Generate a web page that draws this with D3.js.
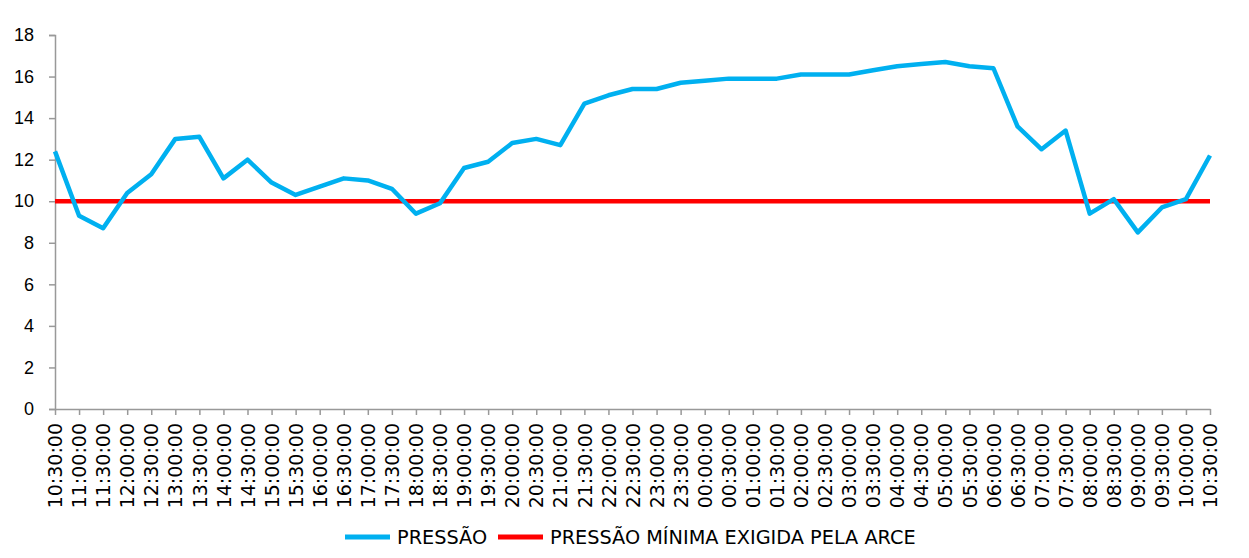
<!DOCTYPE html>
<html>
<head>
<meta charset="utf-8">
<script src="https://cdn.jsdelivr.net/npm/d3@7"></script>
<style>
  body { margin: 0; background: #fff; }
  svg { font-family: "DejaVu Sans", sans-serif; }
</style>
</head>
<body>
<svg id="chart" width="1249" height="558"></svg>
<script>
// time labels, every 30 minutes
var times = ["10:30:00","11:00:00","11:30:00","12:00:00","12:30:00","13:00:00","13:30:00",
    "14:00:00","14:30:00","15:00:00","15:30:00","16:00:00","16:30:00","17:00:00","17:30:00",
    "18:00:00","18:30:00","19:00:00","19:30:00","20:00:00","20:30:00","21:00:00","21:30:00",
    "22:00:00","22:30:00","23:00:00","23:30:00","00:00:00","00:30:00","01:00:00","01:30:00",
    "02:00:00","02:30:00","03:00:00","03:30:00","04:00:00","04:30:00","05:00:00","05:30:00",
    "06:00:00","06:30:00","07:00:00","07:30:00","08:00:00","08:30:00","09:00:00","09:30:00",
    "10:00:00","10:30:00 "];

// measured pressure
var pressao = [12.4, 9.3, 8.7, 10.4, 11.3, 13.0, 13.1, 11.1, 12.0, 10.9, 10.3, 10.7, 11.1, 11.0, 10.6,
    9.4, 9.9, 11.6, 11.9, 12.8, 13.0, 12.7, 14.7, 15.1, 15.4, 15.4, 15.7, 15.8, 15.9, 15.9, 15.9,
    16.1, 16.1, 16.1, 16.3, 16.5, 16.6, 16.7, 16.5, 16.4, 13.6, 12.5, 13.4, 9.4, 10.1, 8.5, 9.7,
    10.1, 12.2];

// minimum required by ARCE
var minimo = times.map(function () { return 10; });

var yTicks = [0, 2, 4, 6, 8, 10, 12, 14, 16, 18];
var seriesNames = ["PRESSÃO", "PRESSÃO MÍNIMA EXIGIDA PELA ARCE"];
var seriesColours = ["#00b0f0", "#ff0000"];

var svg = d3.select("#chart");

var x = d3.scalePoint()
    .domain(times)
    .range([55, 1210]);
var y = d3.scaleLinear()
    .domain([0, 18])
    .range([409, 35]);

// y axis
var yAxis = svg.append("g")
    .attr("transform", "translate(55,0)")
    .attr("font-family", "DejaVu Sans")
    .call(d3.axisLeft(y).tickValues(yTicks).tickSize(6).tickPadding(15));
yAxis.select(".domain").attr("stroke", "#999").attr("stroke-width", 1.5);
yAxis.selectAll(".tick line").attr("stroke", "#999").attr("stroke-width", 1.5);
yAxis.selectAll("text")
    .attr("font-size", 18)
    .attr("fill", "#000");

// x axis
var xAxis = svg.append("g")
    .attr("transform", "translate(0,409)")
    .call(d3.axisBottom(x).tickSize(6).tickSizeOuter(0));
xAxis.attr("font-family", "DejaVu Sans");
xAxis.select(".domain").attr("stroke", "#999").attr("stroke-width", 1.5);
xAxis.selectAll(".tick line").attr("stroke", "#999").attr("stroke-width", 1.5);
xAxis.selectAll("text")
    .attr("font-size", 19)
    .attr("fill", "#000")
    .attr("x", 0)
    .attr("y", 0)
    .attr("dy", "0.35em")
    .attr("transform", "translate(0,14) rotate(-90)")
    .style("text-anchor", "end");

var line = d3.line()
    .x(function (d, i) { return x(times[i]); })
    .y(function (d) { return y(d); });

// red threshold line
svg.append("path")
    .datum(minimo)
    .attr("d", line)
    .attr("fill", "none")
    .attr("stroke", seriesColours[1])
    .attr("stroke-width", 4.5);

// pressure line
svg.append("path")
    .datum(pressao)
    .attr("d", line)
    .attr("fill", "none")
    .attr("stroke", seriesColours[0])
    .attr("stroke-width", 4.5)
    .attr("stroke-linejoin", "round");

// legend
var legendX = [345, 498];
var legend = svg.append("g");
legend.selectAll("line")
    .data(seriesNames)
    .enter()
    .append("line")
    .attr("x1", function (d, i) { return legendX[i]; })
    .attr("x2", function (d, i) { return legendX[i] + 45; })
    .attr("y1", 537)
    .attr("y2", 537)
    .attr("stroke", function (d, i) { return seriesColours[i]; })
    .attr("stroke-width", 5);
legend.selectAll("text")
    .data(seriesNames)
    .enter()
    .append("text")
    .attr("x", function (d, i) { return legendX[i] + 52; })
    .attr("y", 537)
    .attr("dy", "0.35em")
    .attr("font-size", 19.3)
    .attr("fill", "#000")
    .text(function (d) { return d; });
</script>
</body>
</html>
